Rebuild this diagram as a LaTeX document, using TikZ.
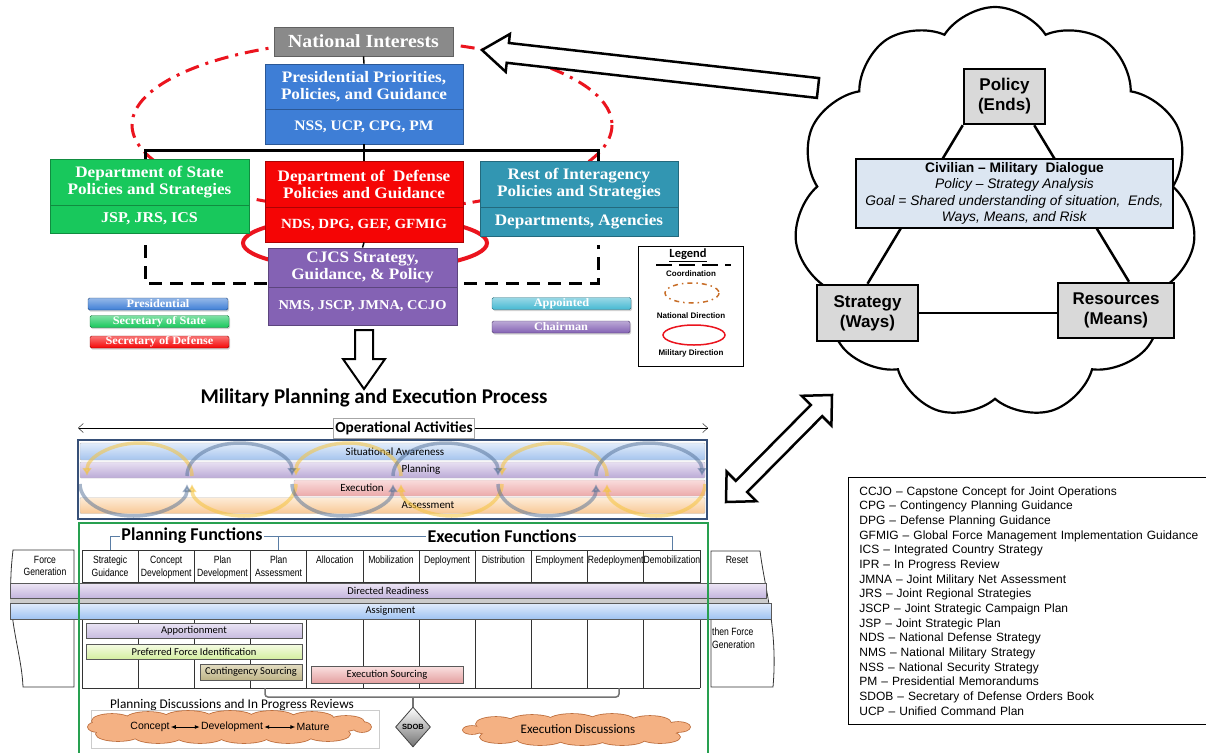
\documentclass[tikz,border=0pt]{standalone}
\usepackage{fontspec}
\setmainfont{Liberation Serif}
\setsansfont{Liberation Sans}
\newfontfamily\calib{Carlito}
\newfontfamily\narrowsf[FakeStretch=0.82]{Liberation Sans}
\newfontfamily\boxserif[FakeStretch=1.07]{Liberation Serif}
\usetikzlibrary{shapes.geometric,shapes.symbols,arrows.meta,calc,shadows}
\definecolor{cGray}{RGB}{138,138,138}
\definecolor{cBlue}{RGB}{62,126,214}
\definecolor{cGreen}{RGB}{24,200,92}
\definecolor{cRed}{RGB}{245,5,5}
\definecolor{cTeal}{RGB}{50,150,178}
\definecolor{cPurple}{RGB}{132,98,180}
\definecolor{cAppt}{RGB}{70,185,210}
\definecolor{cRedE}{RGB}{235,20,30}
\definecolor{cOrDash}{RGB}{200,110,40}
\definecolor{cCiv}{RGB}{220,230,242}
\definecolor{cLG}{RGB}{217,217,217}
\definecolor{cSAa}{RGB}{226,236,250}
\definecolor{cSAb}{RGB}{165,196,238}
\definecolor{cPla}{RGB}{232,224,242}
\definecolor{cPlb}{RGB}{187,170,214}
\definecolor{cExa}{RGB}{249,220,220}
\definecolor{cExb}{RGB}{236,170,170}
\definecolor{cAsa}{RGB}{253,236,215}
\definecolor{cAsb}{RGB}{248,200,150}
\definecolor{cYel}{RGB}{245,195,60}
\definecolor{cBArc}{RGB}{80,110,150}
\definecolor{cNavy}{RGB}{55,80,120}
\definecolor{cGreenL}{RGB}{40,160,80}
\definecolor{cSteel}{RGB}{90,125,165}
\definecolor{cDRa}{RGB}{237,230,245}
\definecolor{cDRb}{RGB}{196,181,222}
\definecolor{cAga}{RGB}{225,236,252}
\definecolor{cAgb}{RGB}{160,195,242}
\definecolor{cApa}{RGB}{234,228,244}
\definecolor{cApb}{RGB}{200,188,224}
\definecolor{cPFa}{RGB}{245,252,228}
\definecolor{cPFb}{RGB}{212,238,160}
\definecolor{cCSa}{RGB}{228,222,195}
\definecolor{cCSb}{RGB}{190,180,135}
\definecolor{cESa}{RGB}{250,225,225}
\definecolor{cESb}{RGB}{228,160,160}
\definecolor{cOr}{RGB}{244,177,131}
\definecolor{cOrD}{RGB}{190,110,60}
\begin{document}
\begin{tikzpicture}[x=1pt,y=-1pt,
  tb/.style={rectangle, inner sep=0pt, align=center, text=white, font=\boxserif\bfseries\fontsize{16}{17}\selectfont, line width=0.8pt},
  tag/.style={rectangle, rounded corners=1.5pt, inner sep=0pt, text=white, font=\boxserif\bfseries\fontsize{11.5}{12}\selectfont, minimum height=12, draw=#1!60!black, top color=#1!55, bottom color=#1, drop shadow={shadow xshift=1pt, shadow yshift=-1.5pt, opacity=0.35}},
  ccb/.style={rectangle, draw, line width=2.5pt, fill=cLG, inner sep=0pt, align=center, font=\sffamily\bfseries\fontsize{17}{20}\selectfont},
  band/.style={rectangle, inner sep=0pt, draw=black!25, line width=0.4pt, rounded corners=1pt},
  blab/.style={font=\calib\fontsize{11}{12}\selectfont, inner sep=0pt},
  yarc/.style={draw=cYel, line width=3.5pt, opacity=0.55, -{Latex[length=8pt,width=10pt]}},
  barc/.style={draw=cBArc, line width=3.5pt, opacity=0.5, -{Latex[length=8pt,width=10pt]}},
  col/.style={font=\narrowsf\fontsize{10.5}{12.5}\selectfont, align=center, anchor=north, inner sep=0pt},
  bar/.style={rectangle, draw=black!65, line width=0.6pt, inner sep=0pt, font=\calib\fontsize{10.5}{12}\selectfont, drop shadow={shadow xshift=1.2pt, shadow yshift=-1.2pt, opacity=0.4}},
  fnl/.style={draw=cSteel, line width=0.9pt},
  lgl/.style={font=\sffamily\bfseries\fontsize{8}{9}\selectfont, inner sep=0pt},
  fnt/.style={font=\calib\bfseries\fontsize{18}{20}\selectfont, inner sep=1pt, fill=white}
]
\useasboundingbox (0,0) rectangle (1206,752);
\fill[white] (0,0) rectangle (1206,752);

% ---------- top organisation chart ----------
\draw[cRedE, line width=3pt, dash pattern=on 14pt off 7pt on 3pt off 7pt] (372,125) ellipse [x radius=240, y radius=85];
\draw[cRedE, line width=4pt] (365,243) ellipse [x radius=122, y radius=27];
\coordinate (cL) at (145,245);
\coordinate (cR) at (598,245);
\draw[line width=3pt, dash pattern=on 13pt off 8pt] (cL) -- ++(0,38) -| (cR);

\node[tb, fill=cGray, draw=cGray!70!black, minimum width=179, minimum height=29, font=\boxserif\bfseries\fontsize{18.5}{20}\selectfont] (ni) at (363.5,41.5) {National Interests};
\node[tb, fill=cBlue, draw=cBlue!70!black, minimum width=198, minimum height=45] (pres) at (364,86.5) {Presidential Priorities,\\Policies, and Guidance};
\node[tb, fill=cBlue, draw=cBlue!70!black, minimum width=198, minimum height=35, font=\boxserif\bfseries\fontsize{14.5}{16}\selectfont] (presc) at (364,126.5) {NSS, UCP, CPG, PM};
\node[tb, fill=cGreen, draw=cGreen!70!black, minimum width=199, minimum height=46] (dos) at (149.5,182) {Department of State\\Policies and Strategies};
\node[tb, fill=cGreen, draw=cGreen!70!black, minimum width=199, minimum height=28, font=\boxserif\bfseries\fontsize{15}{16}\selectfont] (dosc) at (149.5,219) {JSP, JRS, ICS};
\node[tb, fill=cRed, draw=cRed!70!black, minimum width=198, minimum height=46] (dod) at (364,184) {Department of\ \ Defense\\Policies and Guidance};
\node[tb, fill=cRed, draw=cRed!70!black, minimum width=198, minimum height=35, font=\boxserif\bfseries\fontsize{14}{16}\selectfont] (dodc) at (364,224.5) {NDS, DPG, GEF, GFMIG};
\node[tb, fill=cTeal, draw=cTeal!70!black, minimum width=198, minimum height=46] (roi) at (579,184) {Rest of Interagency\\Policies and Strategies};
\node[tb, fill=cTeal, draw=cTeal!70!black, minimum width=198, minimum height=29] (roic) at (579,221.5) {Departments, Agencies};
\node[tb, fill=cPurple, draw=cPurple!70!black, minimum width=189, minimum height=39] (cj) at (362.5,267.5) {CJCS Strategy,\\Guidance, \& Policy};
\node[tb, fill=cPurple, draw=cPurple!70!black, minimum width=189, minimum height=38, font=\boxserif\bfseries\fontsize{13.5}{15}\selectfont] (cjc) at (362.5,306) {NMS, JSCP, JMNA, CCJO};

\coordinate (hbL) at (145,150);
\coordinate (hbR) at (598,150);
\draw[line width=1.5pt] (ni.south) -- (pres.north);
\draw[line width=2pt] (presc.south) -- (dod.north);
\draw[line width=3pt] (dos.north -| hbL) -- (hbL) -- (hbR) -- (hbR |- roi.north);
\draw[line width=1.5pt] (dodc.south) -- (cj.north);

\draw[line width=2pt, fill=white, line join=miter] (355,330) -- (373,330) -- (373,359) -- (385,359) -- (364,389) -- (343,359) -- (355,359) -- cycle;

\node[tag=cBlue, minimum width=140] (tP) at (158,304) {Presidential};
\node[tag=cGreen, minimum width=139] (tS) at (159.5,321.5) {Secretary of State};
\node[tag=cRed, minimum width=139] (tD) at (159.5,342) {Secretary of Defense};
\node[tag=cAppt, minimum width=139] (tA) at (561.5,303.5) {Appointed};
\node[tag=cPurple, minimum width=138] (tC) at (561,327) {Chairman};

% legend
\node[draw, line width=0.8pt, minimum width=105, minimum height=120, inner sep=0pt] (lg) at (690.5,306) {};
\node[font=\calib\bfseries\fontsize{12.5}{14}\selectfont, inner sep=0pt] (lgt) at (688,255) {\underline{Legend}};
\coordinate (lgA) at (656,265);
\coordinate (lgB) at (731,265);
\draw[line width=2pt, dash pattern=on 16pt off 7pt] (lgA) -- (lgB);
\node[lgl] (lg1) at (691,274) {Coordination};
\draw[cOrDash, line width=1.5pt, dash pattern=on 5pt off 4pt on 1.5pt off 4pt] (692,293) ellipse [x radius=27, y radius=10];
\node[lgl] (lg2) at (691,316) {National Direction};
\draw[cRedE, line width=1.5pt] (694,335) ellipse [x radius=31, y radius=10];
\node[lgl] (lg3) at (691,353) {Military Direction};

% ---------- cloud ----------
\node[cloud, draw, fill=white, line width=2.2pt, cloud puffs=11, cloud puff arc=115, cloud ignores aspect, minimum width=402, minimum height=412, inner sep=0pt] (bc) at (995,213) {};
\draw[line width=2.5pt, fill=white, line join=miter] (482,50) -- (509.9,34.0) -- (508.9,43.0) -- (819.1,78.1) -- (816.9,97.9) -- (506.7,62.8) -- (505.7,71.8) -- cycle;
\node[ccb, minimum width=81, minimum height=55] (pol) at (1004.5,96.5) {Policy\\(Ends)};
\node[ccb, minimum width=101, minimum height=56] (strat) at (867.5,313) {Strategy\\(Ways)};
\node[ccb, minimum width=116, minimum height=55] (res) at (1116,310.5) {Resources\\(Means)};
\draw[line width=2.5pt] (pol.south west) -- (strat.north);
\draw[line width=2.5pt] ($(pol.south east)+(-12,0)$) -- ($(res.north)+(13,0)$);
\draw[line width=2.5pt] (strat.east) -- (strat.east -| res.west);
\node[rectangle, draw, line width=2.5pt, fill=cCiv, minimum width=317, minimum height=69, inner sep=0pt, align=center, font=\sffamily\fontsize{13.8}{16.5}\selectfont] (civ) at (1014.5,193.5) {\textbf{Civilian – Military\ \ Dialogue}\\\textit{Policy – Strategy Analysis}\\\textit{Goal = Shared understanding of situation,\ \ Ends,}\\\textit{Ways, Means, and Risk}};

\draw[line width=2.5pt, fill=white, line join=miter] (726,502) -- (756.4,501.2) -- (747.2,492.0) -- (822.2,416.2) -- (831.4,425.4) -- (832,395) -- (801.6,395.8) -- (810.8,405.0) -- (735.8,480.8) -- (726.6,471.6) -- cycle;

% ---------- glossary ----------
\node[draw, line width=0.8pt, anchor=north west, minimum width=362, minimum height=247, inner xsep=9pt, inner ysep=0pt, text width=340, align=left, font=\sffamily\fontsize{12}{14.67}\selectfont] (gloss) at (848,477) {CCJO – Capstone Concept for Joint Operations\\
CPG – Contingency Planning Guidance\\
DPG – Defense Planning Guidance\\
GFMIG – Global Force Management Implementation Guidance\\
ICS – Integrated Country Strategy\\
IPR – In Progress Review\\
JMNA – Joint Military Net Assessment\\
JRS – Joint Regional Strategies\\
JSCP – Joint Strategic Campaign Plan\\
JSP – Joint Strategic Plan\\
NDS – National Defense Strategy\\
NMS – National Military Strategy\\
NSS – National Security Strategy\\
PM – Presidential Memorandums\\
SDOB – Secretary of Defense Orders Book\\
UCP – Unified Command Plan};

% ---------- operational activities ----------
\node[font=\calib\bfseries\fontsize{21}{24}\selectfont, inner sep=0pt] (title) at (374,398) {Military Planning and Execution Process};
\coordinate (oaL) at (78,428);
\coordinate (oaR) at (708,428);
\node[draw=black!35, fill=white, font=\calib\bfseries\fontsize{15.3}{17}\selectfont, inner xsep=2pt, inner ysep=0pt, minimum height=20] (oa) at (404,428) {Operational Activities};
\draw[-{Straight Barb[length=5pt,width=9pt]}] (oa.west) -- (oaL);
\draw[-{Straight Barb[length=5pt,width=9pt]}] (oa.east) -- (oaR);

\node[band, top color=cSAa, bottom color=cSAb, minimum width=625, minimum height=17] (sa) at (392.5,451.5) {};
\node[band, top color=cPla, bottom color=cPlb, minimum width=625, minimum height=16] (pl) at (392.5,470) {};
\node[band, top color=cExa, bottom color=cExb, minimum width=411, minimum height=16] (ex) at (499.5,488) {};
\node[band, top color=cAsa, bottom color=cAsb, minimum width=625, minimum height=16] (as) at (392.5,505.5) {};
\node[blab] (saL) at (395,452) {Situational Awareness};
\node[blab] (plL) at (421,470) {Planning};
\node[blab] (exL) at (362,487.5) {Execution};
\node[blab] (asL) at (428,505) {Assessment};

\draw[yarc] (192,476) arc[start angle=0, end angle=-180, x radius=52.5, y radius=33];
\draw[yarc] (296,484) arc[start angle=0, end angle=180, x radius=52, y radius=32];
\draw[yarc] (401,476) arc[start angle=0, end angle=-180, x radius=52.5, y radius=33];
\draw[yarc] (502,484) arc[start angle=0, end angle=180, x radius=50.5, y radius=32];
\draw[yarc] (607,476) arc[start angle=0, end angle=-180, x radius=52.5, y radius=33];
\draw[yarc] (705,484) arc[start angle=0, end angle=180, x radius=49, y radius=32];
\draw[barc] (80,484) arc[start angle=180, end angle=0, x radius=53.5, y radius=32];
\draw[barc] (187,476) arc[start angle=-180, end angle=0, x radius=52.5, y radius=33];
\draw[barc] (292,484) arc[start angle=180, end angle=0, x radius=50.5, y radius=32];
\draw[barc] (393,476) arc[start angle=-180, end angle=0, x radius=52.5, y radius=33];
\draw[barc] (498,484) arc[start angle=180, end angle=0, x radius=49, y radius=32];
\draw[barc] (596,476) arc[start angle=-180, end angle=0, x radius=53, y radius=33];
\node[draw=cNavy, line width=2pt, minimum width=629, minimum height=79, inner sep=0pt] (opb) at (392.5,479.5) {};

% ---------- functions table ----------
\foreach \i in {0,...,11} \draw[line width=0.8pt, black!80] ({82+\i*56.18},550) -- ({82+\i*56.18},688);
\draw[line width=0.8pt, black!80] (82,550) -- (700,550) (82,582) -- (700,582) (82,688) -- (700,688);
\foreach \t [count=\i] in {{Strategic\\Guidance},{Concept\\Development},{Plan\\Development},{Plan\\Assessment},Allocation,Mobilization,Deployment,Distribution,Employment,Redeployment,Demobilization}
  \node[col] (h\i) at ({82+(\i-0.5)*56.18},556) {\t};

\draw[line width=0.8pt, black!80, fill=white] (13,550) -- (74,550) -- (74,687) -- (23,687) .. controls (22,660) and (12,630) .. (11,600) .. controls (10,575) and (12,560) .. (13,550) -- cycle;
\draw[line width=0.8pt, black!80, fill=white] (711,551) -- (760,551) .. controls (765,590) and (778,630) .. (773,687) -- (711,687) -- cycle;
\node[col] (fg) at (45,556) {Force\\Generation};
\node[col] (rs) at (737,556) {Reset};
\node[col, anchor=north west, align=left] (tfg) at (712,628) {then Force\\Generation};

\fill[black!20] (10,598) rectangle (768,603);
\node[bar, top color=cDRa, bottom color=cDRb, minimum width=756, minimum height=15] (dr) at (388,590.5) {Directed Readiness};
\node[bar, top color=cAga, bottom color=cAgb, minimum width=761, minimum height=16] (asg) at (390.5,611) {Assignment};
\node[bar, top color=cApa, bottom color=cApb, minimum width=216, minimum height=15] (app) at (194,630.5) {Apportionment};
\node[bar, top color=cPFa, bottom color=cPFb, minimum width=216, minimum height=15] (pfi) at (194,651.5) {Preferred Force Identification};
\node[bar, top color=cCSa, bottom color=cCSb, minimum width=102, minimum height=16] (cs) at (251,672) {Contingency Sourcing};
\node[bar, top color=cESa, bottom color=cESb, minimum width=152, minimum height=17] (es) at (387,674.5) {Execution Sourcing};

\node[fnt] (pf) at (192,536) {Planning Functions};
\node[fnt] (ef) at (502,536) {Execution Functions};
\draw[fnl] (110,550) -- (110,536) -- (pf.west);
\draw[fnl] (pf.east) -- (ef.west);
\draw[fnl] (278.7,536) -- (278.7,550);
\draw[fnl] (ef.east) -- (672,536) -- (672,550);

\node[draw=cGreenL, line width=2pt, minimum width=629, minimum height=250, anchor=north west, inner sep=0pt] (fb) at (78,522) {};

% ---------- discussions ----------
\coordinate (bk1) at (265,688);
\coordinate (bk2) at (619,688);
\draw[black!55, line width=1.5pt, rounded corners=3pt] (bk1) -- ++(0,9) -| (bk2);
\node[diamond, aspect=0.875, minimum width=35, minimum height=40, inner sep=0pt, top color=white, bottom color=black!55, draw=black!75, line width=0.8pt, font=\sffamily\bfseries\fontsize{7.5}{9}\selectfont] (sdob) at (413,727) {SDOB};
\draw[black!55, line width=1.5pt] (413,697) -- (sdob.north);

\node[font=\calib\fontsize{13.3}{15}\selectfont, inner sep=0pt] (pd) at (232,705) {Planning Discussions and In Progress Reviews};
\node[draw=black!20, line width=0.6pt, minimum width=288, minimum height=38, inner sep=0pt] (pdb) at (235,729) {};
% planning cloud (union of puffs)
\foreach \x/\y/\a/\b in {230/727/128/10, 112/721/20/7, 148/719/22/7, 188/718/24/7, 230/718/24/7, 272/718/23/7, 312/719/22/7, 346/722/18/6, 118/734/22/7, 158/736/24/7, 200/736/24/7, 244/736/25/7, 288/736/24/7, 328/734/22/7, 98/727/10/5, 362/727/9/5}
  \draw[cOrD, line width=1.6pt] (\x,\y) ellipse [x radius=\a, y radius=\b];
\foreach \x/\y/\a/\b in {230/727/128/10, 112/721/20/7, 148/719/22/7, 188/718/24/7, 230/718/24/7, 272/718/23/7, 312/719/22/7, 346/722/18/6, 118/734/22/7, 158/736/24/7, 200/736/24/7, 244/736/25/7, 288/736/24/7, 328/734/22/7, 98/727/10/5, 362/727/9/5}
  \fill[cOr] (\x,\y) ellipse [x radius=\a, y radius=\b];
\node[font=\sffamily\fontsize{10.5}{12}\selectfont, inner sep=1pt] (cc) at (150,727) {Concept};
\node[font=\sffamily\fontsize{10.5}{12}\selectfont, inner sep=1pt] (cd) at (232,727) {Development};
\node[font=\sffamily\fontsize{10.5}{12}\selectfont, inner sep=1pt] (cm) at (313,727) {Mature};
\draw[{Latex[length=5pt,width=4pt]}-{Latex[length=5pt,width=4pt]}, line width=1pt] (cc) -- (cd);
\draw[{Latex[length=5pt,width=4pt]}-{Latex[length=5pt,width=4pt]}, line width=1pt] (cd) -- (cm);
% execution cloud (union of puffs)
\foreach \x/\y/\a/\b in {578/730/102/10, 496/724/20/7, 532/722/23/7, 572/721/24/7, 612/721/23/7, 650/723/21/7, 678/727/12/5, 500/737/20/6, 540/739/23/6, 582/739/24/6, 622/739/23/6, 660/737/20/6, 472/730/9/4}
  \draw[cOrD, line width=1.6pt] (\x,\y) ellipse [x radius=\a, y radius=\b];
\foreach \x/\y/\a/\b in {578/730/102/10, 496/724/20/7, 532/722/23/7, 572/721/24/7, 612/721/23/7, 650/723/21/7, 678/727/12/5, 500/737/20/6, 540/739/23/6, 582/739/24/6, 622/739/23/6, 660/737/20/6, 472/730/9/4}
  \fill[cOr] (\x,\y) ellipse [x radius=\a, y radius=\b];
\node[font=\calib\fontsize{13}{14}\selectfont, inner sep=0pt] (ed) at (578,729) {Execution Discussions};
\end{tikzpicture}
\end{document}
